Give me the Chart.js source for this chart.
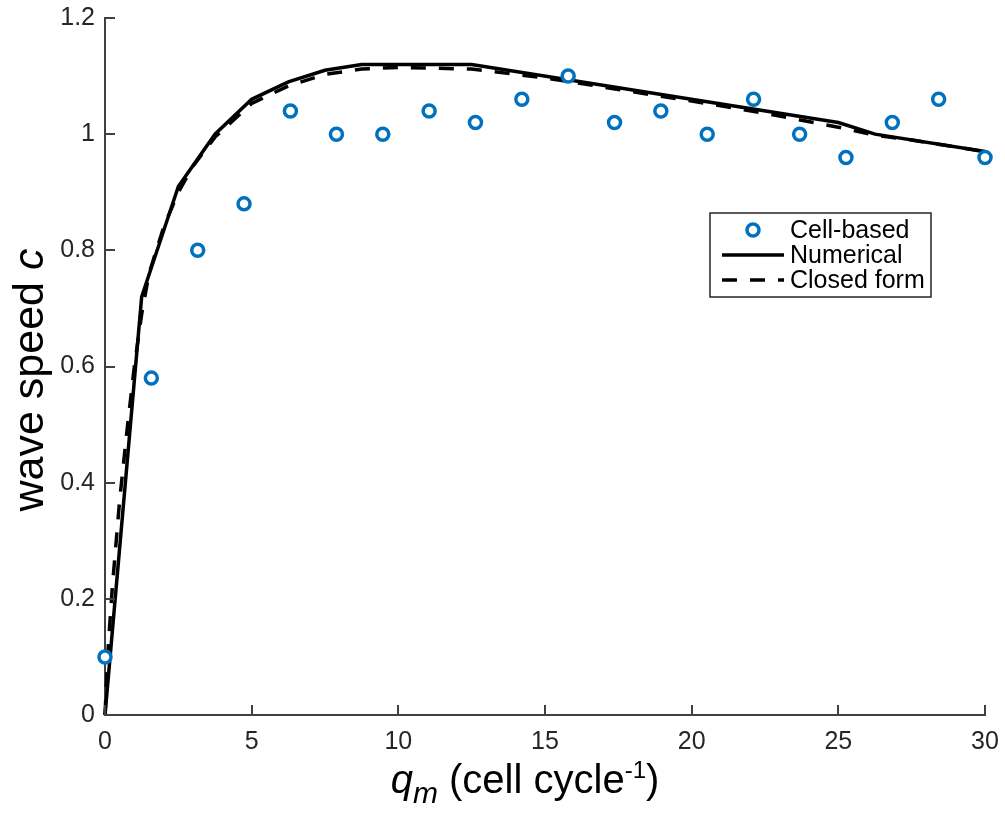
<!DOCTYPE html>
<html>
<head>
<meta charset="utf-8">
<script src="https://cdn.jsdelivr.net/npm/chart.js@4.4.1/dist/chart.umd.min.js"></script>
<style>
  html, body { margin: 0; padding: 0; background: #fff; }
  #wrap { width: 1005px; height: 815px; }
</style>
</head>
<body>
<div id="wrap"><canvas id="waveChart" width="1005" height="815"></canvas></div>
<script>
// cell-based simulation points
const cellX = [0, 1.58, 3.16, 4.74, 6.32, 7.89, 9.47, 11.05, 12.63, 14.21, 15.79, 17.37, 18.95, 20.53, 22.11, 23.68, 25.26, 26.84, 28.42, 30];
const cellY = [0.10, 0.58, 0.80, 0.88, 1.04, 1.00, 1.00, 1.04, 1.02, 1.06, 1.10, 1.02, 1.04, 1.00, 1.06, 1.00, 0.96, 1.02, 1.06, 0.96];

// numerical solution
const numX = [0, 1.25, 2.5, 3.75, 5, 6.25, 7.5, 8.75, 12.5, 25, 26.25, 30];
const numY = [0, 0.72, 0.91, 1.0, 1.06, 1.09, 1.11, 1.12, 1.12, 1.02, 1.0, 0.97];

// closed form
const closedX = [0, 0.1, 0.25, 0.5, 0.75, 1, 1.25, 1.5, 2, 2.5, 3, 3.75, 5, 6.25, 7.5, 8.75, 10, 12.5, 15, 17.5, 20, 22.5, 25, 26.25, 27.5, 30];
const closedY = [0, 0.11, 0.22, 0.37, 0.49, 0.6, 0.69, 0.76, 0.84, 0.9, 0.945, 0.995, 1.053, 1.083, 1.103, 1.112, 1.115, 1.112, 1.097, 1.077, 1.057, 1.036, 1.012, 0.998, 0.99, 0.97];

const xTicks = [0, 5, 10, 15, 20, 25, 30];
const yTicks = [0, 0.2, 0.4, 0.6, 0.8, 1, 1.2];
const yTickLabels = ['0', '0.2', '0.4', '0.6', '0.8', '1', '1.2'];

const FONT = '"Liberation Sans", Arial, Helvetica, sans-serif';
const AXIS = '#404040';
const BLUE = '#0072BD';

function pts(xs, ys) {
    return xs.map((x, i) => ({ x: x, y: ys[i] }));
}

const extras = {
    id: 'extras',
    afterDraw(chart) {
        const ctx = chart.ctx;
        const xs = chart.scales.x, ys = chart.scales.y;
        const a = chart.chartArea;
        ctx.save();

        // inward ticks
        ctx.strokeStyle = AXIS;
        ctx.lineWidth = 2;
        ctx.beginPath();
        xTicks.forEach(v => {
            const px = Math.round(xs.getPixelForValue(v));
            ctx.moveTo(px, a.bottom);
            ctx.lineTo(px, a.bottom - 10);
        });
        yTicks.forEach(v => {
            const py = Math.round(ys.getPixelForValue(v));
            ctx.moveTo(a.left, py);
            ctx.lineTo(a.left + 10, py);
        });
        ctx.stroke();

        // legend
        const lx = 710, ly = 213, lw = 221, lh = 84;
        ctx.fillStyle = '#fff';
        ctx.fillRect(lx, ly, lw, lh);
        ctx.strokeStyle = '#262626';
        ctx.lineWidth = 1.5;
        ctx.strokeRect(lx, ly, lw, lh);
        ctx.font = '25px ' + FONT;
        ctx.fillStyle = '#000';
        ctx.textBaseline = 'middle';
        ctx.textAlign = 'left';
        const rows = [ly + 17, ly + 42, ly + 67];
        chart.data.datasets.forEach((ds, i) => {
            const yy = rows[i];
            if (i === 0) {
                ctx.beginPath();
                ctx.arc(753, yy, ds.pointRadius, 0, Math.PI * 2);
                ctx.fillStyle = '#fff';
                ctx.fill();
                ctx.lineWidth = ds.pointBorderWidth;
                ctx.strokeStyle = ds.pointBorderColor;
                ctx.stroke();
            } else {
                ctx.beginPath();
                ctx.setLineDash(ds.borderDash || []);
                ctx.lineWidth = ds.borderWidth;
                ctx.strokeStyle = ds.borderColor;
                ctx.moveTo(722, yy);
                ctx.lineTo(784, yy);
                ctx.stroke();
                ctx.setLineDash([]);
            }
            ctx.fillStyle = '#000';
            ctx.fillText(ds.label, 790, yy + 1);
        });

        // x axis title: q_m (cell cycle^-1)
        ctx.fillStyle = '#000';
        ctx.textBaseline = 'alphabetic';
        const parts = [
            { t: 'q', f: 'italic 40px ' + FONT, dy: 0 },
            { t: 'm', f: 'italic 30px ' + FONT, dy: 10 },
            { t: ' (cell cycle', f: '40px ' + FONT, dy: 0 },
            { t: '-1', f: '24px ' + FONT, dy: -15 },
            { t: ')', f: '40px ' + FONT, dy: 0 }
        ];
        let total = 0;
        parts.forEach(p => { ctx.font = p.f; p.w = ctx.measureText(p.t).width; total += p.w; });
        let cx = 525 - total / 2;
        const base = 793;
        parts.forEach(p => {
            ctx.font = p.f;
            ctx.fillText(p.t, cx, base + p.dy);
            cx += p.w;
        });

        // y axis title: wave speed c
        ctx.translate(43, 380);
        ctx.rotate(-Math.PI / 2);
        const yp = [
            { t: 'wave speed ', f: '43px ' + FONT },
            { t: 'c', f: 'italic 43px ' + FONT }
        ];
        let yt = 0;
        yp.forEach(p => { ctx.font = p.f; p.w = ctx.measureText(p.t).width; yt += p.w; });
        let yx = -yt / 2;
        yp.forEach(p => {
            ctx.font = p.f;
            ctx.fillText(p.t, yx, 0);
            yx += p.w;
        });
        ctx.restore();
    }
};

new Chart(document.getElementById('waveChart'), {
    type: 'scatter',
    data: {
        datasets: [
            {
                label: 'Cell-based',
                data: pts(cellX, cellY),
                showLine: false,
                pointRadius: 6,
                pointBorderWidth: 3.5,
                pointBorderColor: BLUE,
                pointBackgroundColor: '#fff',
                pointHoverRadius: 6,
                clip: false,
                order: 0
            },
            {
                label: 'Numerical',
                data: pts(numX, numY),
                showLine: true,
                borderColor: '#000',
                borderWidth: 3.5,
                pointRadius: 0,
                tension: 0,
                clip: false,
                order: 1
            },
            {
                label: 'Closed form',
                data: pts(closedX, closedY),
                showLine: true,
                borderColor: '#000',
                borderWidth: 3.5,
                borderDash: [15, 13],
                pointRadius: 0,
                tension: 0,
                clip: false,
                order: 2
            }
        ]
    },
    options: {
        responsive: false,
        animation: false,
        events: [],
        layout: { padding: { left: 0, right: 20, top: 18, bottom: 0 } },
        plugins: {
            legend: { display: false },
            tooltip: { enabled: false }
        },
        scales: {
            x: {
                type: 'linear',
                min: 0,
                max: 30,
                afterBuildTicks: s => { s.ticks = xTicks.map(v => ({ value: v })); },
                afterFit: s => { s.height = 100; s.paddingLeft = 0; s.paddingRight = 0; },
                grid: { display: false, drawTicks: false },
                border: { display: true, color: AXIS, width: 2 },
                ticks: {
                    color: '#262626',
                    font: { family: FONT, size: 25 },
                    padding: 12,
                    maxRotation: 0,
                    callback: v => String(v)
                }
            },
            y: {
                type: 'linear',
                min: 0,
                max: 1.2,
                afterBuildTicks: s => { s.ticks = yTicks.map(v => ({ value: v })); },
                afterFit: s => { s.width = 105; s.paddingTop = 0; s.paddingBottom = 0; },
                grid: { display: false, drawTicks: false },
                border: { display: true, color: AXIS, width: 2 },
                ticks: {
                    color: '#262626',
                    font: { family: FONT, size: 25 },
                    padding: 10,
                    callback: (v, i) => yTickLabels[i]
                }
            }
        }
    },
    plugins: [extras]
});
</script>
</body>
</html>
